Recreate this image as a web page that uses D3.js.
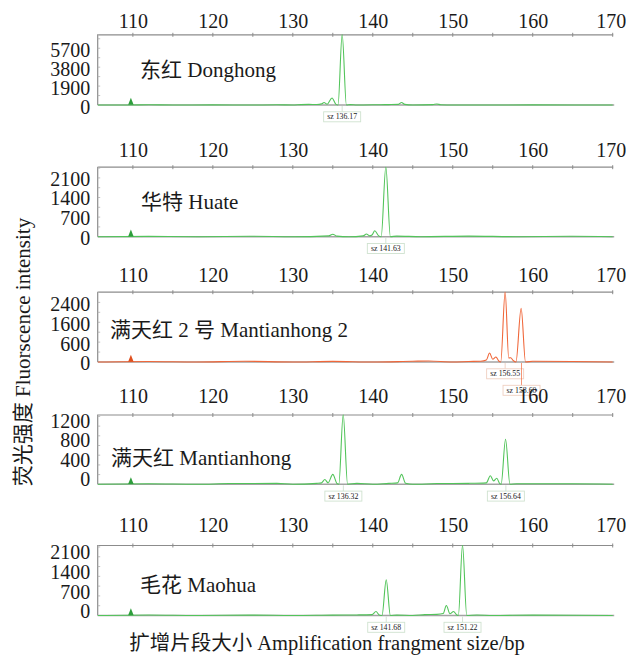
<!DOCTYPE html>
<html>
<head>
<meta charset="utf-8">
<script src="https://cdn.jsdelivr.net/npm/d3@7"></script>
<style>
  html, body { margin: 0; padding: 0; background: #fff; }
  svg { display: block; }
  text { font-family: "Liberation Serif", "Times New Roman", "Noto Sans CJK SC", serif; fill: #1a1a1a; }
</style>
</head>
<body>
<svg id="chart" width="626" height="661"></svg>
<script>
// ---------------- DATA ----------------
const bpDomain = [105.6, 170];
const xTickValues = [110, 120, 130, 140, 150, 160, 170];
const xMinorTicks = [110, 115, 120, 125, 130, 135, 140, 145, 150, 155, 160, 165, 170];

const panelNames = ["东红 Donghong", "华特 Huate", "满天红 2 号 Mantianhong 2", "满天红 Mantianhong", "毛花 Maohua"];
const yMax = [7100, 2500, 2830, 1440, 2520];
const yTickValues = [[0, 1900, 3800, 5700], [0, 700, 1400, 2100], [0, 800, 1600, 2400], [0, 400, 800, 1200], [0, 700, 1400, 2100]];
const yTickLabels = [["0", "1900", "3800", "5700"], ["0", "700", "1400", "2100"], ["0", "600", "1600", "2400"], ["0", "400", "800", "1200"], ["0", "700", "1400", "2100"]];
const markerBp = 109.75;

const traceDonghong = [[105.6,0],[109.5,0],[112,20],[115,0],[120,15],[125,0],[128,20],[130,0],[131,40],[132,60],[133,50],[133.6,110],[133.9,250],[134.3,80],[134.9,700],[135.4,60],[135.65,0],[136.17,7100],[136.7,0],[137.2,40],[138,0],[141,30],[142,40],[143.2,60],[143.6,250],[144,60],[145,0],[147.5,40],[148,100],[148.5,30],[150,0],[160,10],[170,0]];
const traceHuate = [[105.6,0],[112,10],[118,0],[125,15],[130,0],[134.5,30],[135,90],[135.5,20],[137,0],[138.8,30],[139.2,95],[139.6,30],[139.9,60],[140.25,210],[140.7,40],[141.05,0],[141.63,2500],[142.2,0],[143,20],[146,0],[152,20],[158,0],[165,15],[170,0]];
const traceMantianhong2 = [[105.6,0],[112,20],[118,0],[124,30],[130,0],[135,25],[140,0],[145,30],[147,40],[150,0],[152,20],[153.5,30],[154.2,80],[154.6,360],[155.0,110],[155.4,200],[155.75,40],[156.0,0],[156.55,2830],[157.0,160],[157.25,170],[157.55,60],[157.9,0],[158.55,2160],[159.1,0],[160,30],[165,20],[170,0]];
const traceMantianhong = [[105.6,0],[112,10],[118,0],[122,15],[128,20],[130,0],[133,20],[133.6,30],[134.0,100],[134.4,30],[135.0,205],[135.5,20],[135.75,0],[136.3,1440],[136.85,0],[138,20],[140,0],[142,20],[143.1,30],[143.6,205],[144.1,20],[145,0],[148,15],[152,20],[154.2,30],[154.7,177],[155.1,70],[155.5,124],[155.85,20],[156.05,0],[156.6,928],[157.15,0],[158,10],[165,10],[170,0]];
const traceMaohua = [[105.6,0],[112,20],[118,0],[125,15],[130,0],[135,15],[138,20],[139.9,30],[140.4,143],[140.8,20],[141.15,0],[141.68,1275],[142.2,0],[143,15],[145,0],[146.5,30],[148,40],[148.8,70],[149.2,357],[149.65,60],[150.1,143],[150.5,20],[150.7,0],[151.22,2520],[151.75,0],[153,20],[155,0],[160,15],[165,10],[170,0]];
const traces = [traceDonghong, traceHuate, traceMantianhong2, traceMantianhong, traceMaohua];

const sizeLabels = [
  [{ text: "sz 136.17", bp: 136.17, row: 0 }],
  [{ text: "sz 141.63", bp: 141.63, row: 0 }],
  [{ text: "sz 156.55", bp: 156.55, row: 0 }, { text: "sz 158.60", bp: 158.6, row: 1 }],
  [{ text: "sz 136.32", bp: 136.32, row: 0 }, { text: "sz 156.64", bp: 156.64, row: 0 }],
  [{ text: "sz 141.68", bp: 141.68, row: 0 }, { text: "sz 151.22", bp: 151.22, row: 0 }]
];

const xTitle = "扩增片段大小 Amplification frangment size/bp";
const yTitle = "荧光强度 Fluorscence intensity";

// ---------------- LAYOUT / STYLE ----------------
const layout = [
  { top: 34.3, base: 105.0, xLabPad: 6,  yLabDy: 2.3, titleX: 140, titleY: 77 },
  { top: 166.7, base: 236.7, xLabPad: 10, yLabDy: 1.0, titleX: 141, titleY: 208.7 },
  { top: 291.7, base: 362.0, xLabPad: 10, yLabDy: 1.5, titleX: 110, titleY: 336.6 },
  { top: 414.5, base: 484.3, xLabPad: 12, yLabDy: -5, titleX: 111, titleY: 465.3 },
  { top: 545.0, base: 615.5, xLabPad: 13.4, yLabDy: -4.2, titleX: 140, titleY: 592 }
];
const traceColors = ["#52c45a", "#52c45a", "#f0673a", "#52c45a", "#52c45a"];
const markerColors = ["#2e9e3c", "#2e9e3c", "#e0501f", "#2e9e3c", "#2e9e3c"];
const labelBorder = ["#cfe2cf", "#cfe2cf", "#efcfc0", "#cfe2cf", "#cfe2cf"];
const axisColor = "#8c8c8c";

const svg = d3.select("#chart");
svg.append("rect").attr("width", 626).attr("height", 661).attr("fill", "#fff");

const x = d3.scaleLinear().domain(bpDomain).range([97.7, 612.7]);
const lastTick = xTickValues[xTickValues.length - 1];

panelNames.forEach((name, i) => {
  const L = layout[i];
  const y = d3.scaleLinear().domain([0, yMax[i]]).range([L.base, L.top]);
  const g = svg.append("g");

  // clip
  const clipId = "clip" + i;
  svg.append("defs").append("clipPath").attr("id", clipId)
    .append("rect").attr("x", x.range()[0]).attr("y", L.top)
    .attr("width", x.range()[1] - x.range()[0] + 2).attr("height", L.base - L.top + 3);

  // top axis
  const topAxis = d3.axisTop(x).tickValues(xTickValues).tickSize(0).tickPadding(L.xLabPad)
    .tickFormat(d3.format("d"));
  const ta = g.append("g").attr("transform", `translate(0,${L.top})`).call(topAxis);
  ta.select(".domain").attr("stroke", axisColor).attr("stroke-width", 1.2);
  ta.selectAll("text").attr("font-size", 20).attr("fill", "#1a1a1a")
    .attr("font-family", '"Liberation Serif", serif');
  ta.selectAll(".tick").filter(d => d === lastTick).select("text")
    .attr("text-anchor", "end").attr("dx", 13);
  // minor ticks crossing the top line
  g.append("g").selectAll("line").data(xMinorTicks).join("line")
    .attr("x1", d => x(d)).attr("x2", d => x(d))
    .attr("y1", L.top - 1.5).attr("y2", L.top + 2.5)
    .attr("stroke", axisColor).attr("stroke-width", 1);

  // left axis
  const leftAxis = d3.axisLeft(y).tickValues(yTickValues[i]).tickSize(0).tickPadding(7.5)
    .tickFormat((d, k) => yTickLabels[i][k]);
  const la = g.append("g").attr("transform", `translate(${x.range()[0]},0)`).call(leftAxis);
  la.select(".domain").remove();
  la.selectAll("text").attr("font-size", 20).attr("fill", "#1a1a1a")
    .attr("font-family", '"Liberation Serif", serif')
    .attr("transform", `translate(0,${L.yLabDy})`);
  g.append("line").attr("x1", x.range()[0]).attr("x2", x.range()[0])
    .attr("y1", L.top).attr("y2", L.base)
    .attr("stroke", axisColor).attr("stroke-width", 1.2);
  // minor inward ticks on the left axis
  const step = yTickValues[i][1] / 2;
  const minor = d3.range(step, yMax[i], step);
  g.append("g").selectAll("line").data(minor).join("line")
    .attr("x1", x.range()[0]).attr("x2", x.range()[0] + 2.5)
    .attr("y1", d => y(d)).attr("y2", d => y(d))
    .attr("stroke", "#b0b0b0").attr("stroke-width", 0.8);

  // baseline
  g.append("line").attr("x1", x.range()[0]).attr("x2", x.range()[1] + 1.5)
    .attr("y1", L.base).attr("y2", L.base)
    .attr("stroke", "#a3a3a3").attr("stroke-width", 1.6);

  // title
  g.append("text").attr("x", L.titleX).attr("y", L.titleY)
    .attr("font-size", 21).attr("fill", "#1a1a1a").text(name);

  // trace
  const line = d3.line().x(d => x(d[0])).y(d => y(d[1])).curve(d3.curveMonotoneX);
  g.append("path").attr("clip-path", `url(#${clipId})`)
    .datum(traces[i]).attr("d", line)
    .attr("fill", "none").attr("stroke", traceColors[i]).attr("stroke-width", 1.1)
    .attr("stroke-linejoin", "round");

  // marker triangle
  g.append("path")
    .attr("d", d3.symbol(d3.symbolTriangle, 16)())
    .attr("transform", `translate(${x(markerBp)},${L.base - 2.6}) scale(0.9,1.3)`)
    .attr("fill", markerColors[i]);

  // size labels
  sizeLabels[i].forEach(lab => {
    const cx = x(lab.bp);
    const boxTop = L.base + 6.8 + lab.row * 16.5;
    g.append("line").attr("x1", cx).attr("x2", cx)
      .attr("y1", L.base + 1).attr("y2", boxTop)
      .attr("stroke", lab.row ? traceColors[i] : labelBorder[i]).attr("stroke-width", 0.9)
      .attr("opacity", lab.row ? 0.8 : 1);
    g.append("rect").attr("x", cx - 18.5).attr("y", boxTop).attr("width", 37).attr("height", 10)
      .attr("fill", "#fff").attr("fill-opacity", 0.85)
      .attr("stroke", labelBorder[i]).attr("stroke-width", 0.9);
    g.append("text").attr("x", cx).attr("y", boxTop + 7.6)
      .attr("text-anchor", "middle").attr("font-size", 7.8).attr("fill", "#444")
      .text(lab.text);
  });
});

// axis titles
svg.append("text").attr("x", 327).attr("y", 650)
  .attr("text-anchor", "middle").attr("font-size", 20.5).attr("fill", "#1a1a1a").text(xTitle);
svg.append("text").attr("transform", "translate(30,352) rotate(-90)")
  .attr("text-anchor", "middle").attr("font-size", 21).attr("fill", "#1a1a1a").text(yTitle);
</script>
</body>
</html>
